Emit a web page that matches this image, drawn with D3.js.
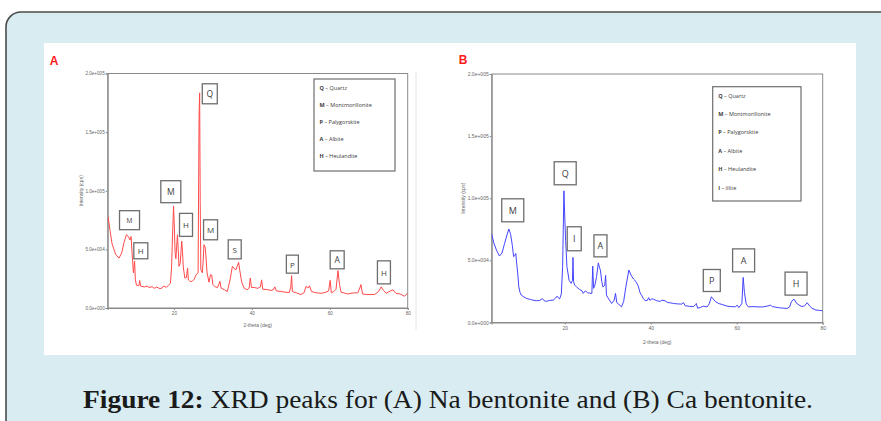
<!DOCTYPE html>
<html>
<head>
<meta charset="utf-8">
<script src="https://cdn.jsdelivr.net/npm/d3@7"></script>
<style>
  html, body { margin: 0; padding: 0; background: #ffffff; }
  svg { display: block; }
</style>
</head>
<body>
<svg id="fig" width="881" height="421"></svg>
<script>
// ---- XRD pattern, Na bentonite (2-theta in degrees, intensity in cps) ----
const thetaNa = [3.1,3.6,4.1,5.0,5.9,6.6,7.2,7.8,8.3,8.7,9.0,9.3,9.6,9.9,10.1,10.4,11.0,11.2,11.5,12.5,13.1,13.6,14.4,14.9,15.6,16.4,17.0,17.4,18.0,18.6,19.1,19.4,19.6,19.9,20.1,20.3,20.5,20.9,21.1,21.3,21.6,22.0,22.2,22.4,22.8,23.2,23.5,23.7,24.2,24.7,25.2,25.7,26.2,26.45,26.6,26.75,26.9,27.3,27.5,27.7,28.0,28.2,28.5,29.0,29.4,29.7,30.0,30.6,31.2,31.8,32.1,33.0,33.7,34.4,35.0,35.5,35.9,36.6,37.0,37.4,38.0,38.8,39.3,39.6,39.9,40.6,41.5,42.2,42.5,42.8,43.8,44.9,45.5,45.9,46.3,47.5,48.5,49.6,50.0,50.2,50.4,51.5,52.6,53.4,53.9,54.4,54.8,55.3,56.5,57.8,59.0,59.7,60.1,60.4,61.0,61.6,62.1,62.5,62.9,64.0,64.6,66.0,67.2,67.7,68.0,68.4,69.5,71.5,72.5,73.2,73.8,74.5,75.5,76.2,77.0,78.0,79.2,80.0];
const intensityNa = [78000,66000,55000,46000,42500,47000,56000,62500,61000,58000,61000,45000,30000,40000,24000,19500,19000,23500,18500,18000,18800,17500,18200,16800,17800,16500,17200,18800,17500,19500,21000,35000,58000,87000,70000,47000,42000,62500,50000,35500,38000,57000,48000,35000,25500,26000,34000,24000,22500,22800,24500,28500,30000,165000,183500,90000,32700,30000,40000,54000,52000,45000,30000,22000,28500,28000,20000,18000,17500,22800,17000,15500,14000,24000,35500,33500,32500,39000,30000,22000,17000,15500,17000,25600,17500,17500,16800,18000,24000,16000,15800,15000,15500,18000,14500,14200,13500,13200,18000,27600,14000,12800,11500,13000,18500,17000,19000,14000,13000,12500,13500,14500,23600,13000,14000,16000,31900,20000,13500,12500,12000,12800,13000,17000,20000,12000,11500,11500,14000,18000,15000,12500,14500,15500,12500,12000,10000,12800];

// ---- XRD pattern, Ca bentonite ----
const thetaCa = [2.9,3.5,4.1,4.8,5.4,6.0,6.6,7.0,7.4,7.8,8.1,8.4,8.6,8.8,9.1,9.3,9.6,9.9,10.5,11.1,12.0,12.6,13.4,14.2,14.8,15.2,15.7,16.5,17.3,17.8,18.2,18.5,18.8,19.2,19.5,19.65,19.8,20.0,20.2,20.5,21.0,21.5,21.8,21.9,22.05,22.3,22.7,23.1,23.5,24.0,24.3,24.8,25.3,25.8,26.3,26.5,26.7,27.0,27.4,27.8,28.1,28.3,28.6,28.9,29.3,29.5,29.7,30.2,30.9,31.5,31.8,32.1,32.6,33.2,33.7,34.2,34.9,35.3,35.6,36.0,36.3,36.7,37.1,37.5,37.9,38.3,38.7,39.2,39.5,39.8,40.2,40.6,41.4,42.2,42.6,43.3,44.0,44.6,45.3,46.2,47.2,47.6,48.0,49.0,50.0,50.4,50.6,50.9,51.6,52.3,53.1,53.6,54.1,54.5,55.0,55.8,56.6,57.7,58.7,59.7,60.1,60.5,61.2,61.5,61.8,62.2,62.7,63.8,64.7,66.0,67.5,67.8,68.3,70.0,71.7,72.3,72.7,73.1,73.4,73.8,74.5,75.2,75.8,76.4,76.9,77.5,78.4,79.2,80.0];
const intensityCa = [72300,64000,58300,53500,56000,63700,71000,75300,71000,62000,53000,54000,55600,48000,38000,28800,24000,22000,20500,19400,18500,18000,17500,17800,19200,17500,17000,17800,18000,19500,21200,19800,19000,23000,45000,75000,106000,85000,66000,45000,34000,31500,34000,52400,33000,30000,28800,27500,26500,25500,23400,25500,24000,23600,23400,45400,27500,30000,37000,48000,44000,42000,33000,28500,30000,37900,22000,19000,15300,18000,23400,16000,14500,12600,17000,28500,42200,39000,37000,35000,34000,32000,29300,24000,21800,19000,17700,17800,20000,17800,19000,18800,17500,17000,18000,17500,16000,15800,15300,15000,14800,16000,13500,13000,12800,14500,15300,11500,12200,13200,12500,15000,20700,19000,17000,15300,14500,13200,12800,12600,14000,12000,15300,36300,24000,15000,12600,12800,12600,12500,13500,14000,12800,11800,11300,12500,16600,18300,18500,16000,14000,12800,13500,15900,13500,11500,10000,9800,9400];

// ---- axis ticks ----
const yTickValues = [0, 50000, 100000, 150000, 200000];
const yTickLabels = ["0.0e+000", "5.0e+004", "1.0e+005", "1.5e+005", "2.0e+005"];
const xTickValues = [20, 40, 60, 80];
const xTickLabels = ["20", "40", "60", "80"];

// ---- phase markers: letter, 2-theta and intensity of the label box centre ----
const peakLettersNa = ["M", "H", "M", "H", "Q", "M", "S", "P", "A", "H"];
const peakThetaNa = [8.6, 11.5, 19.2, 23.1, 29.2, 29.4, 35.6, 50.4, 61.9, 73.9];
const peakIntensityNa = [74900, 48800, 99200, 70900, 182700, 66700, 50000, 37400, 41100, 30400];

const peakLettersCa = ["M", "Q", "I", "A", "P", "A", "H"];
const peakThetaCa = [7.9, 20.1, 22.2, 28.3, 54.2, 61.6, 73.8];
const peakIntensityCa = [90300, 120100, 67400, 61700, 33800, 50000, 31300];

// ---- phase keys ----
const keyCodesNa = ["Q", "M", "P", "A", "H"];
const keyNamesNa = ["Quartz", "Montmorillonite", "Palygorskite", "Albite", "Heulandite"];
const keyCodesCa = ["Q", "M", "P", "A", "H", "I"];
const keyNamesCa = ["Quartz", "Montmorillonite", "Palygorskite", "Albite", "Heulandite", "illite"];

const panelLetters = ["A", "B"];
const xTitle = "2-theta (deg)";
const yTitle = "Intensity (cps)";

// ---- layout ----
const svg = d3.select("#fig");

// light blue card with rounded corner
svg.append("rect")
  .attr("x", 6).attr("y", 12).attr("width", 920).attr("height", 440)
  .attr("rx", 15).attr("ry", 15)
  .attr("fill", "#d8ecf1").attr("stroke", "#4b4b4b").attr("stroke-width", 1.6);

// white figure area
svg.append("rect")
  .attr("x", 44).attr("y", 43).attr("width", 812).attr("height", 312)
  .attr("fill", "#ffffff");

const panels = [
  {
    letter: panelLetters[0], letterX: 54, letterY: 65,
    box: { left: 107.7, top: 73.5, right: 407.7, bottom: 308 },
    theta: thetaNa, intensity: intensityNa, color: "#ff4a4a",
    xTitleY: 327, yTitleX: 82,
    tickFont: 4.6,
    peaks: { letters: peakLettersNa, theta: peakThetaNa, intensity: peakIntensityNa },
    boxSizes: [[20, 19, 6.5], [14, 16, 8], [20, 22, 8.5], [13, 23, 8], [15, 20, 8.5], [14, 20, 8], [13, 19, 8], [12, 18, 8], [14, 18, 8.5], [13, 23, 8]],
    key: { codes: keyCodesNa, names: keyNamesNa, x: 314, y: 79, w: 81, h: 92, firstY: 88.5, step: 17.2 },
    edgeLine: 416
  },
  {
    letter: panelLetters[1], letterX: 463, letterY: 64,
    box: { left: 491.7, top: 74, right: 822.7, bottom: 322.5 },
    theta: thetaCa, intensity: intensityCa, color: "#4444ff",
    xTitleY: 344, yTitleX: 463.5,
    tickFont: 5,
    peaks: { letters: peakLettersCa, theta: peakThetaCa, intensity: peakIntensityCa },
    boxSizes: [[22, 23, 9], [22, 23, 9], [14, 24, 9], [13, 22, 9], [17, 22, 9], [22, 23, 9], [22, 23, 9]],
    key: { codes: keyCodesCa, names: keyNamesCa, x: 712.7, y: 86.7, w: 88.3, h: 114.3, firstY: 96.5, step: 18.4 },
    edgeLine: null
  }
];

panels.forEach((p, idx) => {
  const g = svg.append("g");
  const b = p.box;
  const x = d3.scaleLinear().domain([3, 80]).range([b.left, b.right]);
  const y = d3.scaleLinear().domain([0, 200000]).range([b.bottom, b.top]);

  // panel letter
  g.append("text")
    .attr("x", p.letterX).attr("y", p.letterY)
    .attr("text-anchor", "middle")
    .attr("font-family", "Liberation Sans, Arial, sans-serif")
    .attr("font-weight", "bold").attr("font-size", 12)
    .attr("fill", "#ff1a1a")
    .text(p.letter);

  if (p.edgeLine) {
    g.append("line")
      .attr("x1", p.edgeLine).attr("x2", p.edgeLine)
      .attr("y1", 72).attr("y2", 330)
      .attr("stroke", "#e6e6e6").attr("stroke-width", 1);
  }

  // frame
  g.append("rect")
    .attr("x", b.left).attr("y", b.top)
    .attr("width", b.right - b.left).attr("height", b.bottom - b.top)
    .attr("fill", "none").attr("stroke", "#8a8a8a").attr("stroke-width", 1);

  // axes
  const yAxis = d3.axisLeft(y).tickValues(yTickValues)
    .tickFormat((d, i) => yTickLabels[i]).tickSize(2).tickPadding(1);
  const xAxis = d3.axisBottom(x).tickValues(xTickValues)
    .tickFormat((d, i) => xTickLabels[i]).tickSize(2).tickPadding(2);

  const ya = g.append("g").attr("transform", `translate(${b.left},0)`).call(yAxis);
  const xa = g.append("g").attr("transform", `translate(0,${b.bottom})`).call(xAxis);
  [ya, xa].forEach(a => {
    a.select(".domain").attr("stroke", "#8a8a8a");
    a.selectAll(".tick line").attr("stroke", "#8a8a8a");
    a.selectAll(".tick text")
      .attr("font-family", "Liberation Sans, Arial, sans-serif")
      .attr("font-size", p.tickFont).attr("fill", "#666");
  });

  // axis titles
  g.append("text")
    .attr("x", (b.left + b.right) / 2).attr("y", p.xTitleY)
    .attr("text-anchor", "middle")
    .attr("font-family", "Liberation Sans, Arial, sans-serif")
    .attr("font-size", 5).attr("fill", "#666")
    .text(xTitle);
  g.append("text")
    .attr("transform", `translate(${p.yTitleX},${(b.top + b.bottom) / 2}) rotate(-90)`)
    .attr("text-anchor", "middle").attr("dominant-baseline", "middle")
    .attr("font-family", "Liberation Sans, Arial, sans-serif")
    .attr("font-size", 5).attr("fill", "#666")
    .text(yTitle);

  // diffraction pattern
  const clipId = "clip" + idx;
  g.append("clipPath").attr("id", clipId)
    .append("rect").attr("x", b.left).attr("y", b.top)
    .attr("width", b.right - b.left).attr("height", b.bottom - b.top);

  const pts = p.theta.map((t, i) => [t, p.intensity[i]]);
  g.append("path")
    .datum(pts)
    .attr("clip-path", `url(#${clipId})`)
    .attr("fill", "none")
    .attr("stroke", p.color).attr("stroke-width", 1)
    .attr("stroke-linejoin", "round")
    .attr("d", d3.line().x(d => x(d[0])).y(d => y(d[1])));

  // phase label boxes
  p.peaks.letters.forEach((L, i) => {
    const cx = x(p.peaks.theta[i]);
    const cy = y(p.peaks.intensity[i]);
    const [w, h, fs] = p.boxSizes[i];
    g.append("rect")
      .attr("x", cx - w / 2).attr("y", cy - h / 2)
      .attr("width", w).attr("height", h)
      .attr("fill", "#ffffff").attr("stroke", "#6e6e6e").attr("stroke-width", 1.3);
    g.append("text")
      .attr("x", cx).attr("y", cy)
      .attr("text-anchor", "middle").attr("dominant-baseline", "central")
      .attr("font-family", "Open Sans, Liberation Sans, sans-serif")
      .attr("font-size", fs).attr("fill", "#3c3c3c")
      .text(L);
  });

  // phase key
  const k = p.key;
  g.append("rect")
    .attr("x", k.x).attr("y", k.y).attr("width", k.w).attr("height", k.h)
    .attr("fill", "#ffffff").attr("stroke", "#6e6e6e").attr("stroke-width", 1.2);
  k.codes.forEach((c, i) => {
    const t = g.append("text")
      .attr("x", k.x + 5.5).attr("y", k.firstY + i * k.step)
      .attr("dominant-baseline", "middle")
      .attr("font-family", "Open Sans, Liberation Sans, sans-serif")
      .attr("font-size", 5.5).attr("fill", "#3c3c3c");
    t.append("tspan").attr("font-weight", "bold").text(c);
    t.append("tspan").text(" \u2013 " + k.names[i]);
  });
});

// caption
const cap = svg.append("text")
  .attr("x", 448).attr("y", 408)
  .attr("text-anchor", "middle")
  .attr("font-family", "Liberation Serif, Times New Roman, serif")
  .attr("font-size", 25).attr("fill", "#1a1a1a");
cap.append("tspan").attr("font-weight", "bold").text("Figure 12:");
cap.append("tspan").text(" XRD peaks for (A) Na bentonite and (B) Ca bentonite.");
cap.attr("textLength", 730).attr("lengthAdjust", "spacingAndGlyphs");
</script>
</body>
</html>
